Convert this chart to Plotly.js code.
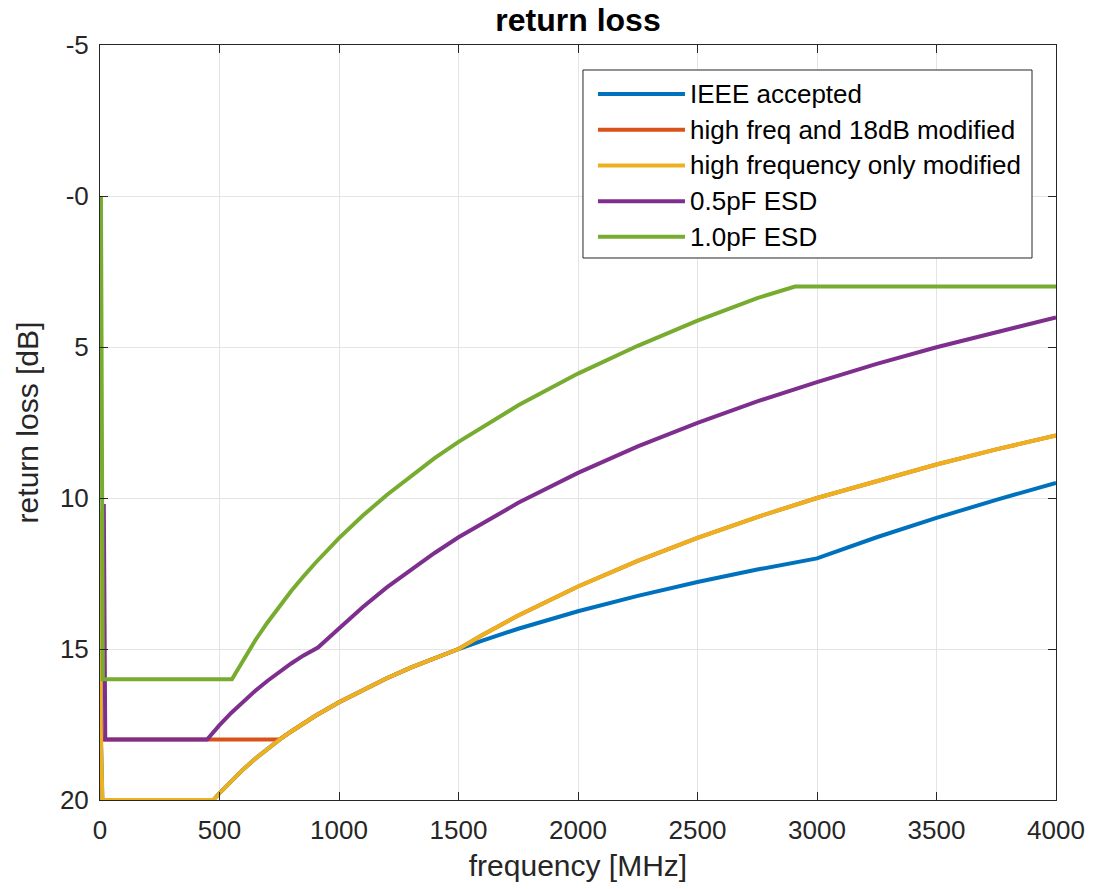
<!DOCTYPE html>
<html>
<head>
<meta charset="utf-8">
<script src="https://cdn.plot.ly/plotly-3.0.1.min.js"></script>
<style>html,body{margin:0;padding:0;background:#fff;}#chart{width:1094px;height:889px;}</style>
</head>
<body>
<div id="chart"></div>
<script>
// IEEE accepted
const freqIEEE = [0, 2, 10, 474, 500, 550, 600, 650, 700, 750, 800, 850, 900, 1000, 1100, 1200, 1300, 1400, 1500, 1600, 1750, 2000, 2250, 2500, 2750, 3000, 3250, 3500, 3750, 4000];
const rlIEEE   = [10.4, 17.3, 20, 20, 19.77, 19.36, 18.98, 18.63, 18.31, 18.01, 17.73, 17.47, 17.22, 16.76, 16.35, 15.97, 15.62, 15.30, 15, 14.72, 14.33, 13.75, 13.24, 12.78, 12.37, 12, 11.30, 10.66, 10.06, 9.5];
// high freq and 18dB modified
const freqHF18 = [0, 2, 8, 750, 800, 850, 900, 1000, 1100, 1200, 1300, 1400, 1500, 1600, 1750, 2000, 2250, 2500, 2750, 3000, 3250, 3500, 3750, 4000];
const rlHF18   = [10.4, 17.3, 18, 18, 17.73, 17.47, 17.22, 16.76, 16.35, 15.97, 15.62, 15.30, 15, 14.54, 13.89, 12.93, 12.08, 11.32, 10.63, 10.0, 9.43, 8.89, 8.39, 7.93];
// high frequency only modified
const freqHF = [0, 2, 10, 474, 500, 550, 600, 650, 700, 750, 800, 850, 900, 1000, 1100, 1200, 1300, 1400, 1500, 1600, 1750, 2000, 2250, 2500, 2750, 3000, 3250, 3500, 3750, 4000];
const rlHF   = [10.4, 17.3, 20, 20, 19.77, 19.36, 18.98, 18.63, 18.31, 18.01, 17.73, 17.47, 17.22, 16.76, 16.35, 15.97, 15.62, 15.30, 15, 14.54, 13.89, 12.93, 12.08, 11.32, 10.63, 10.0, 9.43, 8.89, 8.39, 7.93];
// 0.5pF ESD
const freqESD05 = [16, 22, 448, 500, 550, 600, 650, 700, 750, 800, 850, 912, 1000, 1100, 1200, 1300, 1400, 1500, 1750, 2000, 2250, 2500, 2750, 3000, 3250, 3500, 3750, 4000];
const rlESD05   = [10.2, 18, 18, 17.52, 17.11, 16.73, 16.38, 16.06, 15.76, 15.48, 15.22, 14.95, 14.32, 13.61, 12.96, 12.37, 11.82, 11.30, 10.16, 9.17, 8.29, 7.51, 6.80, 6.16, 5.56, 5.01, 4.50, 4.02];
// 1.0pF ESD
const freqESD10 = [4, 12, 552, 600, 650, 700, 750, 800, 850, 900, 1000, 1100, 1200, 1300, 1400, 1500, 1750, 2000, 2250, 2500, 2750, 2908, 4000];
const rlESD10   = [0, 16, 16, 15.34, 14.71, 14.13, 13.59, 13.08, 12.61, 12.16, 11.33, 10.58, 9.90, 9.27, 8.68, 8.14, 6.93, 5.88, 4.96, 4.13, 3.38, 3.0, 3.0];

const seriesNames = ['IEEE accepted', 'high freq and 18dB modified', 'high frequency only modified', '0.5pF ESD', '1.0pF ESD'];
const seriesColors = ['#0072BD', '#D95319', '#EDB120', '#7E2F8E', '#77AC30'];
const xs = [freqIEEE, freqHF18, freqHF, freqESD05, freqESD10];
const ys = [rlIEEE, rlHF18, rlHF, rlESD05, rlESD10];

const yTickVals = [-5, 0, 5, 10, 15, 20];
const yTickText = ['-5', '-0', '5', '10', '15', '20'];
const xTickVals = [0, 500, 1000, 1500, 2000, 2500, 3000, 3500, 4000];

const FONT = 'Liberation Sans, Arial, Helvetica, sans-serif';
const LW = 4;

const traces = seriesNames.map((n, i) => ({
  type: 'scatter', mode: 'lines', name: n, showlegend: false,
  x: xs[i], y: ys[i],
  line: {color: seriesColors[i], width: LW}
}));

// custom MATLAB-style legend (paper coordinates)
const legLeft = 0.5052, legRight = 0.9749, legTop = 0.9669, legBottom = 0.7179;
const legRowTop = 0.9351, legRowStep = 0.0473;
const legLineX0 = 0.5209, legLineX1 = 0.6119, legTextX = 0.6155;
const shapes = [{
  type: 'rect', xref: 'paper', yref: 'paper',
  x0: legLeft, x1: legRight, y0: legBottom, y1: legTop,
  line: {color: '#262626', width: 1}, fillcolor: '#ffffff', layer: 'above'
}];
const annotations = [];
seriesNames.forEach((n, i) => {
  const yy = legRowTop - i * legRowStep;
  shapes.push({type: 'line', xref: 'paper', yref: 'paper', x0: legLineX0, x1: legLineX1, y0: yy, y1: yy,
    line: {color: seriesColors[i], width: LW}, layer: 'above'});
  annotations.push({xref: 'paper', yref: 'paper', x: legTextX, y: yy, xanchor: 'left', yanchor: 'middle',
    text: n, showarrow: false, font: {family: FONT, size: 26, color: '#000000'}});
});

const axisCommon = {
  showgrid: true, gridcolor: '#e4e4e4', gridwidth: 1,
  showline: true, linecolor: '#262626', linewidth: 1, mirror: 'ticks',
  ticks: 'inside', ticklen: 8, tickcolor: '#262626', tickwidth: 1,
  zeroline: false,
  tickfont: {family: FONT, size: 26, color: '#262626'}
};

const layout = {
  width: 1094, height: 889,
  margin: {l: 100, r: 38, t: 45, b: 89},
  paper_bgcolor: '#ffffff', plot_bgcolor: '#ffffff',
  font: {family: FONT, color: '#262626'},
  title: {text: '<b>return loss</b>', x: 0.5, xref: 'paper', xanchor: 'center', y: 0.978, yanchor: 'middle',
          font: {size: 32, color: '#000000', family: FONT}},
  xaxis: Object.assign({}, axisCommon, {
    range: [0, 4000], tickvals: xTickVals, ticktext: xTickVals.map(String),
    ticklabelstandoff: 7,
    title: {text: 'frequency [MHz]', standoff: 10, font: {size: 30, color: '#262626', family: FONT}}
  }),
  yaxis: Object.assign({}, axisCommon, {
    range: [20, -5], tickvals: yTickVals, ticktext: yTickText,
    ticklabelstandoff: 5,
    title: {text: 'return loss [dB]', standoff: 12, font: {size: 30, color: '#262626', family: FONT}}
  }),
  showlegend: false,
  shapes: shapes,
  annotations: annotations
};

Plotly.newPlot('chart', traces, layout, {displayModeBar: false, staticPlot: true});
</script>
</body>
</html>
